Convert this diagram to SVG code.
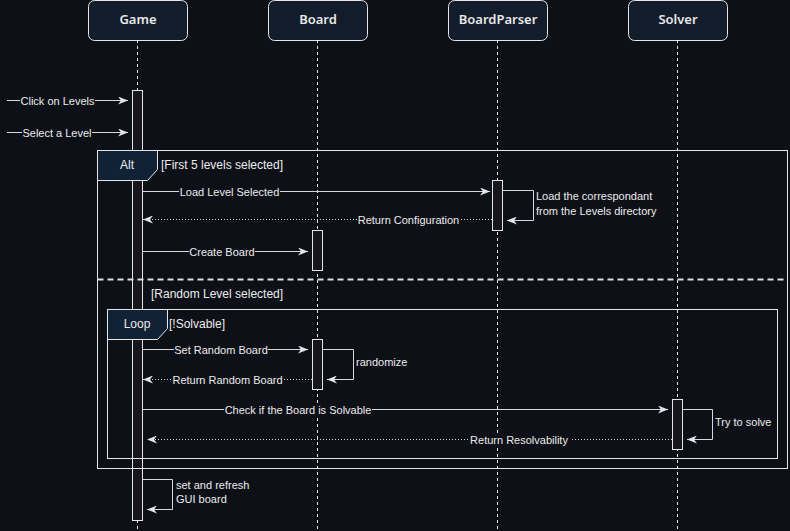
<svg xmlns="http://www.w3.org/2000/svg" width="790" height="531" viewBox="0 0 790 531">
<defs>
<style>
.node{fill:#121c2b;stroke:#e6e6e6;stroke-width:1}
.nt{font-family:"Noto Sans","Open Sans",sans-serif;font-size:13px;font-weight:600;fill:#e8e8e8;text-anchor:middle}
.life{stroke:#e6e6e6;stroke-width:1;stroke-dasharray:3 3;fill:none}
.act{fill:#17151d;stroke:#e6e6e6;stroke-width:1}
.msg{stroke:#d8d8d8;stroke-width:1;fill:none}
.ret{stroke:#d8d8d8;stroke-width:1;fill:none;stroke-dasharray:1 2}
.lbl{font-family:"Liberation Sans",Arial,sans-serif;font-size:11px;fill:#ececec}
.c{text-anchor:middle}
.bg{fill:#0e1017}
.frame{fill:none;stroke:#e6e6e6;stroke-width:1}
.tab{fill:#122236;stroke:#e6e6e6;stroke-width:1}
.tt{font-family:"Liberation Sans",Arial,sans-serif;font-size:12px;fill:#ececec;text-anchor:middle}
.cond{font-family:"Liberation Sans",Arial,sans-serif;font-size:12px;fill:#ececec}
</style>
<marker id="ar" viewBox="0 0 10 8" refX="10" refY="4" markerWidth="10" markerHeight="8" markerUnits="userSpaceOnUse" orient="auto">
<path d="M0,0 L10,4 L0,8 L3,4 z" fill="#e6e6e6"/>
</marker>
</defs>
<rect width="790" height="531" fill="#0e1017"/>

<g id="lifelines">
<line class="life" x1="137.5" y1="40" x2="137.5" y2="531"/>
<line class="life" x1="317.5" y1="40" x2="317.5" y2="531"/>
<line class="life" x1="497.5" y1="40" x2="497.5" y2="531"/>
<line class="life" x1="677.5" y1="40" x2="677.5" y2="531"/>
</g>

<g id="node-game">
<rect class="node" x="88.5" y="0.5" width="99" height="40" rx="6"/>
<text class="nt" x="138" y="24">Game</text>
</g>
<g id="node-board">
<rect class="node" x="268.5" y="0.5" width="99" height="40" rx="6"/>
<text class="nt" x="318" y="24">Board</text>
</g>
<g id="node-boardparser">
<rect class="node" x="448.5" y="0.5" width="99" height="40" rx="6"/>
<text class="nt" x="498" y="24">BoardParser</text>
</g>
<g id="node-solver">
<rect class="node" x="628.5" y="0.5" width="99" height="40" rx="6"/>
<text class="nt" x="678" y="24">Solver</text>
</g>

<g id="activations">
<rect class="act" x="132.5" y="90.5" width="10" height="430"/>
<rect class="act" x="492.5" y="180.5" width="10" height="50"/>
<rect class="act" x="312.5" y="230.5" width="10" height="40"/>
<rect class="act" x="312.5" y="339.5" width="10" height="50"/>
<rect class="act" x="672.5" y="399.5" width="10" height="50"/>
</g>

<g id="frames">
<rect class="frame" x="97.5" y="150.5" width="690" height="318"/>
<polygon class="tab" points="97.5,150.5 157.5,150.5 157.5,169.5 147.5,180.5 97.5,180.5"/>
<text class="tt" x="127" y="169">Alt</text>
<text class="cond" x="161" y="169">[First 5 levels selected]</text>
<line x1="97.5" y1="279.5" x2="787.5" y2="279.5" stroke="#e0e0e0" stroke-width="2" stroke-dasharray="6 4"/>
<text class="cond" x="151" y="298">[Random Level selected]</text>
<rect class="frame" x="107.5" y="309.5" width="670" height="149"/>
<polygon class="tab" points="107.5,309.5 167.5,309.5 167.5,328.5 157.5,339.5 107.5,339.5"/>
<text class="tt" x="137" y="328">Loop</text>
<text class="cond" x="169" y="328">[!Solvable]</text>
</g>

<g id="connectors">
<line class="msg" x1="7" y1="100.5" x2="128" y2="100.5" marker-end="url(#ar)"/>
<rect class="bg" x="20" y="94" width="75" height="13"/>
<text class="lbl c" x="57.5" y="104.5">Click on Levels</text>

<line class="msg" x1="7" y1="132.5" x2="128" y2="132.5" marker-end="url(#ar)"/>
<rect class="bg" x="22" y="126" width="70" height="13"/>
<text class="lbl c" x="57" y="136.5">Select a Level</text>

<line class="msg" x1="143" y1="191.5" x2="490" y2="191.5" marker-end="url(#ar)"/>
<rect class="bg" x="179" y="185" width="101" height="13"/>
<text class="lbl c" x="229.5" y="195.5">Load Level Selected</text>

<path class="msg" d="M503,190.5 H533.5 V220.5 H507" marker-end="url(#ar)"/>
<text class="lbl" x="536" y="200">Load the correspondant</text>
<text class="lbl" x="536" y="215">from the Levels directory</text>

<line class="ret" x1="492" y1="219.5" x2="143" y2="219.5" marker-end="url(#ar)"/>
<rect class="bg" x="357" y="213" width="103" height="13"/>
<text class="lbl c" x="408.5" y="223.5">Return Configuration</text>

<line class="msg" x1="143" y1="251.5" x2="308" y2="251.5" marker-end="url(#ar)"/>
<rect class="bg" x="189" y="245" width="66" height="13"/>
<text class="lbl c" x="222" y="255.5">Create Board</text>

<line class="msg" x1="143" y1="349.5" x2="308" y2="349.5" marker-end="url(#ar)"/>
<rect class="bg" x="174" y="343" width="94" height="13"/>
<text class="lbl c" x="221" y="353.5">Set Random Board</text>

<path class="msg" d="M323,349.5 H353.5 V379.5 H327" marker-end="url(#ar)"/>
<text class="lbl" x="356" y="366">randomize</text>

<line class="ret" x1="312" y1="379.5" x2="143" y2="379.5" marker-end="url(#ar)"/>
<rect class="bg" x="172" y="373" width="111" height="13"/>
<text class="lbl c" x="227.5" y="383.5">Return Random Board</text>

<line class="msg" x1="143" y1="409.5" x2="668" y2="409.5" marker-end="url(#ar)"/>
<rect class="bg" x="224" y="403" width="148" height="13"/>
<text class="lbl c" x="298" y="413.5">Check if the Board is Solvable</text>

<path class="msg" d="M683,409.5 H712.5 V439.5 H687" marker-end="url(#ar)"/>
<text class="lbl" x="715" y="426">Try to solve</text>

<line class="ret" x1="672" y1="439.5" x2="147" y2="439.5" marker-end="url(#ar)"/>
<rect class="bg" x="469" y="433" width="101" height="13"/>
<text class="lbl c" x="519" y="443.5">Return Resolvability</text>

<path class="msg" d="M143,479.5 H172.5 V509.5 H147" marker-end="url(#ar)"/>
<text class="lbl" x="176" y="489">set and refresh</text>
<text class="lbl" x="176" y="503">GUI board</text>
</g>
</svg>
